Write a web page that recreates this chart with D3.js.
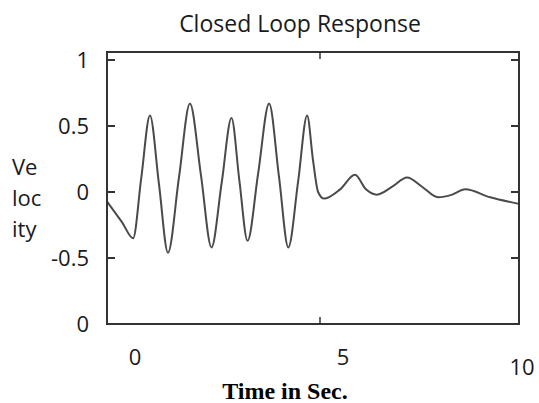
<!DOCTYPE html>
<meta charset='utf-8'>
<body style='margin:0;background:#fff'>
<script src='https://cdn.jsdelivr.net/npm/d3@7'></script>
<script>

    // values
    var time = [-0.54, -0.15, 0.13, 0.34, 0.56, 0.79, 1.02, 1.30, 1.58, 1.86,
                2.13, 2.39, 2.64, 2.84, 3.05, 3.32, 3.60, 3.85, 4.09, 4.34,
                4.57, 4.72, 4.85, 5.00, 5.41, 5.79, 6.07, 6.35, 6.74, 7.12,
                7.50, 7.91, 8.27, 8.60, 9.24, 9.97];
    var velocity = [-0.07, -0.23, -0.35, 0.11, 0.58, 0.06, -0.46, 0.11, 0.67, 0.13,
                    -0.42, 0.07, 0.56, 0.09, -0.37, 0.14, 0.67, 0.12, -0.42, 0.08,
                    0.58, 0.24, 0.0, -0.05, 0.02, 0.13, 0.02, -0.02, 0.04, 0.11,
                    0.04, -0.04, -0.02, 0.02, -0.04, -0.09];

    var xTicks = [0, 5, 10];
    var xTickLabels = ['0', '5', '10'];
    var yTicks = [1, 0.5, 0, -0.5, -1];
    var yTickLabels = ['1', '0.5', '0', '-0.5', '0'];
    var yLabelLines = ['Ve', 'loc', 'ity'];

    var width = 539, height = 403;
    var box = { left: 107, right: 519, top: 52, bottom: 324 };
    var ink = '#333333', lineColor = '#4a4a4a', textColor = '#1a1a1a';

    var svg = d3.select('body').append('svg')
        .attr('width', width)
        .attr('height', height);

    var x = d3.scaleLinear().domain([0, 10]).range([128, 520]);
    var y = d3.scaleLinear().domain([-1, 1]).range([324, 60]);

    var points = time.map(function(t, i){ return [t, velocity[i]]; });

    svg.append('path')
        .datum(points)
        .attr('fill', 'none')
        .attr('stroke', lineColor)
        .attr('stroke-width', 2)
        .attr('d', d3.line()
            .x(function(d){ return x(d[0]); })
            .y(function(d){ return y(d[1]); })
            .curve(d3.curveMonotoneX));

    // frame
    svg.append('rect')
        .attr('x', box.left)
        .attr('y', box.top)
        .attr('width', box.right - box.left)
        .attr('height', box.bottom - box.top)
        .attr('fill', 'none')
        .attr('stroke', ink)
        .attr('stroke-width', 2);

    // inward ticks on left and right
    svg.selectAll('.ytickL')
        .data(yTicks)
        .enter()
        .append('line')
        .attr('x1', box.left).attr('x2', box.left + 8)
        .attr('y1', function(d){ return y(d); })
        .attr('y2', function(d){ return y(d); })
        .attr('stroke', ink).attr('stroke-width', 2);

    svg.selectAll('.ytickR')
        .data(yTicks)
        .enter()
        .append('line')
        .attr('x1', box.right).attr('x2', box.right - 8)
        .attr('y1', function(d){ return y(d); })
        .attr('y2', function(d){ return y(d); })
        .attr('stroke', ink).attr('stroke-width', 2);

    // only the middle x tick is drawn, top and bottom
    [box.top, box.bottom].forEach(function(edge, k){
        svg.append('line')
            .attr('x1', x(xTicks[1]) - 4).attr('x2', x(xTicks[1]) - 4)
            .attr('y1', edge)
            .attr('y2', k === 0 ? edge + 7 : edge - 7)
            .attr('stroke', ink).attr('stroke-width', 1.5);
    });

    var sans = "'Open Sans', 'DejaVu Sans', sans-serif";

    svg.selectAll('.ylab')
        .data(yTicks)
        .enter()
        .append('text')
        .attr('x', box.left - 18)
        .attr('y', function(d){ return y(d); })
        .attr('dy', '0.36em')
        .attr('text-anchor', 'end')
        .attr('font-family', sans)
        .attr('font-size', 22)
        .attr('fill', textColor)
        .text(function(d, i){ return yTickLabels[i]; });

    svg.selectAll('.xlab')
        .data(xTicks)
        .enter()
        .append('text')
        .attr('x', function(d, i){ return x(d) + [7, 19, 2][i]; })
        .attr('y', function(d, i){ return i === 2 ? 375 : 365; })
        .attr('text-anchor', 'middle')
        .attr('font-family', sans)
        .attr('font-size', 22)
        .attr('fill', textColor)
        .text(function(d, i){ return xTickLabels[i]; });

    svg.selectAll('.vlab')
        .data(yLabelLines)
        .enter()
        .append('text')
        .attr('x', 12)
        .attr('y', function(d, i){ return 175 + i * 31; })
        .attr('font-family', sans)
        .attr('font-size', 22)
        .attr('fill', textColor)
        .text(function(d){ return d; });

    svg.append('text')
        .attr('x', 300)
        .attr('y', 32)
        .attr('text-anchor', 'middle')
        .attr('font-family', sans)
        .attr('font-size', 23)
        .attr('fill', textColor)
        .text('Closed Loop Response');

    svg.append('text')
        .attr('x', 285)
        .attr('y', 399)
        .attr('text-anchor', 'middle')
        .attr('font-family', "'Liberation Serif', 'Times New Roman', serif")
        .attr('font-weight', 'bold')
        .attr('font-size', 24)
        .attr('fill', '#000')
        .text('Time in Sec.');

</script>
</body>
</html>
